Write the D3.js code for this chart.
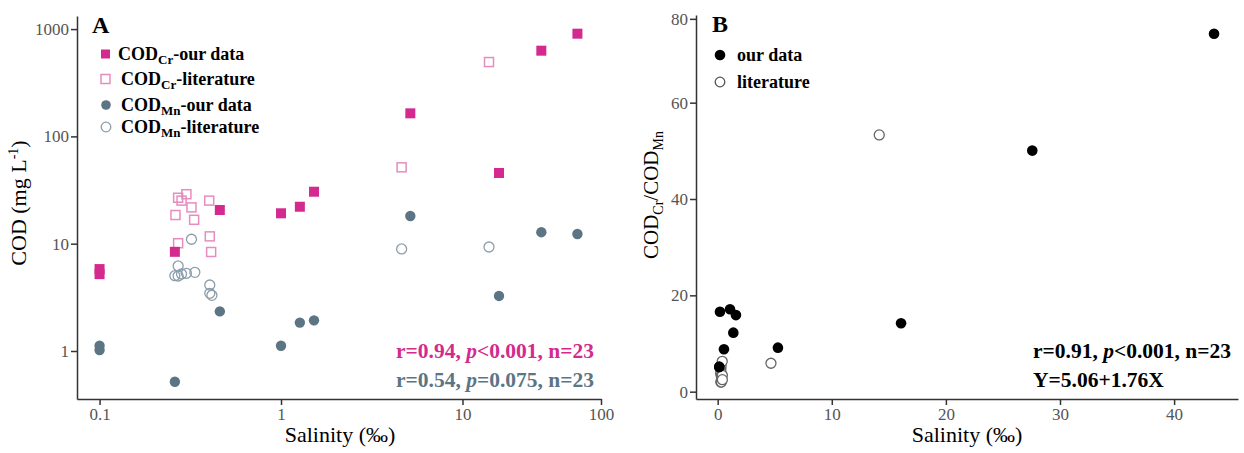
<!DOCTYPE html>
<html>
<head>
<meta charset="utf-8">
<script src="https://cdn.jsdelivr.net/npm/d3@7"></script>
<style>
body { margin: 0; background: #fff; }
svg { font-family: "Liberation Serif", "Times New Roman", serif; }
</style>
</head>
<body>
<svg id="chart" width="1244" height="453"></svg>
<script>
// ---- panel A : COD vs salinity (log / log) ----
var crOurSal = [0.1, 0.1, 0.26, 0.46, 1.0, 1.27, 1.52, 5.16, 15.9, 27.2, 43.0];
var crOurVal = [5.2, 5.8, 8.4, 20.6, 19.2, 22.1, 30.5, 164, 45.6, 629, 906];
var mnOurVal = [1.12, 1.02, 0.517, 2.34, 1.12, 1.84, 1.93, 18.1, 3.26, 12.8, 12.3];

var crLitSal = [0.271, 0.301, 0.283, 0.321, 0.262, 0.332, 0.402, 0.271, 0.405, 0.412, 4.62, 14.0];
var crLitVal = [26.8, 28.9, 25.2, 21.8, 18.5, 16.7, 25.2, 10.1, 11.7, 8.37, 51.5, 493];
var mnLitSal = [0.321, 0.271, 0.26, 0.271, 0.283, 0.301, 0.335, 0.405, 0.405, 0.416, 4.62, 14.0];
var mnLitVal = [11.0, 6.2, 5.03, 5.0, 5.22, 5.3, 5.41, 4.12, 3.45, 3.30, 8.93, 9.31];

// tick positions / labels (the last x tick sits at the axis end, labelled 100 as in the source)
var xTicksA = [0.1, 1, 10, 58];
var xLabelsA = ["0.1", "1", "10", "100"];
var yTicksA = [1, 10, 100, 1000];
var yLabelsA = ["1", "10", "100", "1000"];

// ---- panel B : CODCr/CODMn ratio vs salinity ----
var ourSalB = [0.14, 0.14, 0.2, 0.55, 1.08, 1.37, 1.6, 5.28, 16.07, 27.57, 43.5];
var ourRatioB = [5.1, 5.2, 16.6, 8.8, 17.1, 12.25, 15.9, 9.14, 14.2, 50.05, 74.3];
var litSalB = [0.26, 0.27, 0.27, 0.28, 0.30, 0.32, 0.33, 0.40, 0.41, 0.41, 4.67, 14.16];
var litRatioB = [3.7, 4.3, 2.0, 4.8, 5.45, 2.0, 3.1, 6.3, 3.4, 2.5, 5.9, 53.3];

var xTicksB = [0, 10, 20, 30, 40];
var yTicksB = [0, 20, 40, 60, 77.4];
var yLabelsB = ["0", "20", "40", "60", "80"];

var magenta = "#d42a8f", magentaLight = "#e68dc0";
var slate = "#5c7585", slateLight = "#8c9eab";
var axisColor = "#333", tickText = "#555";

var svg = d3.select("#chart");

function zip(a, b) {
	return a.map(function(v, i) { return [v, b[i]]; });
}

function styleAxis(g, fontSize) {
	g.attr("font-family", null).attr("font-size", null);
	g.select(".domain").attr("stroke", axisColor).attr("stroke-width", 1.5);
	g.selectAll(".tick line").attr("stroke", axisColor).attr("stroke-width", 1.5);
	g.selectAll(".tick text").attr("fill", tickText).style("font-size", fontSize + "px");
}

// ===== Panel A =====
var xA = d3.scaleLog().domain([0.0751, 58]).range([77, 601]);
var yA = d3.scaleLog().domain([0.357, 1324]).range([399, 16]);

svg.append("g")
	.attr("transform", "translate(0,399)")
	.call(d3.axisBottom(xA).tickValues(xTicksA).tickSize(6).tickPadding(3)
		.tickSizeOuter(0).tickFormat(function(d, i) { return xLabelsA[i]; }))
	.call(styleAxis, 17);

svg.append("g")
	.attr("transform", "translate(77,0)")
	.call(d3.axisLeft(yA).tickValues(yTicksA).tickSize(6).tickPadding(2)
		.tickSizeOuter(0).tickFormat(function(d, i) { return yLabelsA[i]; }))
	.call(styleAxis, 17);

// COD_Mn literature (open circles)
svg.append("g").selectAll("circle")
	.data(zip(mnLitSal, mnLitVal))
	.enter().append("circle")
	.attr("cx", function(d) { return xA(d[0]); })
	.attr("cy", function(d) { return yA(d[1]); })
	.attr("r", 5)
	.attr("fill", "none")
	.attr("stroke", slateLight)
	.attr("stroke-width", 1.3);

// COD_Cr literature (open squares)
svg.append("g").selectAll("rect")
	.data(zip(crLitSal, crLitVal))
	.enter().append("rect")
	.attr("x", function(d) { return xA(d[0]) - 4.5; })
	.attr("y", function(d) { return yA(d[1]) - 4.5; })
	.attr("width", 9).attr("height", 9)
	.attr("fill", "none")
	.attr("stroke", magentaLight)
	.attr("stroke-width", 1.5);

// COD_Mn our data
svg.append("g").selectAll("circle")
	.data(zip(crOurSal, mnOurVal))
	.enter().append("circle")
	.attr("cx", function(d) { return xA(d[0]); })
	.attr("cy", function(d) { return yA(d[1]); })
	.attr("r", 5.2)
	.attr("fill", slate);

// COD_Cr our data
svg.append("g").selectAll("rect")
	.data(zip(crOurSal, crOurVal))
	.enter().append("rect")
	.attr("x", function(d) { return xA(d[0]) - 5; })
	.attr("y", function(d) { return yA(d[1]) - 5; })
	.attr("width", 10).attr("height", 10)
	.attr("fill", magenta);

// panel letter + legend
svg.append("text").attr("x", 92).attr("y", 33)
	.style("font-size", "24px").style("font-weight", "bold").text("A");

var legendA = [
	{sub: "Cr", rest: "-our data", shape: "square", fill: magenta, stroke: "none"},
	{sub: "Cr", rest: "-literature", shape: "square", fill: "#fff", stroke: magentaLight},
	{sub: "Mn", rest: "-our data", shape: "circle", fill: slate, stroke: "none"},
	{sub: "Mn", rest: "-literature", shape: "circle", fill: "#fff", stroke: slateLight}
];
var legendRowsA = [54, 79, 105, 127];

legendA.forEach(function(d, i) {
	var cy = legendRowsA[i];
	if (d.shape === "square") {
		svg.append("rect").attr("x", 101).attr("y", cy - 4.5).attr("width", 9).attr("height", 9)
			.attr("fill", d.fill).attr("stroke", d.stroke).attr("stroke-width", 1.5);
	} else {
		svg.append("circle").attr("cx", 106).attr("cy", cy).attr("r", 4.8)
			.attr("fill", d.fill).attr("stroke", d.stroke).attr("stroke-width", 1.3);
	}
	var t = svg.append("text").attr("x", i === 0 ? 118 : 121).attr("y", cy + 6)
		.style("font-size", "18px").style("font-weight", "bold");
	t.append("tspan").text("COD");
	t.append("tspan").attr("dy", 4).style("font-size", "13px").text(d.sub);
	t.append("tspan").attr("dy", -4).text(d.rest);
});

// axis titles A
svg.append("text").attr("x", 340).attr("y", 442).attr("text-anchor", "middle")
	.style("font-size", "22px").text("Salinity (‰)");

var ylabA = svg.append("text")
	.attr("transform", "translate(26,203) rotate(-90)")
	.attr("text-anchor", "middle")
	.style("font-size", "22px");
ylabA.append("tspan").text("COD (mg L");
ylabA.append("tspan").attr("dy", -8).style("font-size", "14px").text("-1");
ylabA.append("tspan").attr("dy", 8).text(")");

// statistics A
var statA = [
	{r: "0.94", p: "<0.001", color: magenta, y: 358},
	{r: "0.54", p: "=0.075", color: slate, y: 387}
];
statA.forEach(function(s) {
	var t = svg.append("text").attr("x", 396).attr("y", s.y)
		.attr("fill", s.color).style("font-size", "21.5px").style("font-weight", "bold");
	t.append("tspan").text("r=" + s.r + ", ");
	t.append("tspan").style("font-style", "italic").text("p");
	t.append("tspan").text(s.p + ", n=23");
});

// ===== Panel B =====
var xB = d3.scaleLinear().domain([-1.9, 45.6]).range([696, 1238]);
var yB = d3.scaleLinear().domain([-1.52, 78.2]).range([399, 15]);

svg.append("g")
	.attr("transform", "translate(0,399)")
	.call(d3.axisBottom(xB).tickValues(xTicksB).tickSize(6).tickPadding(3).tickSizeOuter(0))
	.call(styleAxis, 17);

svg.append("g")
	.attr("transform", "translate(696,0)")
	.call(d3.axisLeft(yB).tickValues(yTicksB).tickSize(6).tickPadding(2)
		.tickSizeOuter(0).tickFormat(function(d, i) { return yLabelsB[i]; }))
	.call(styleAxis, 17);

svg.append("g").selectAll("circle")
	.data(zip(litSalB, litRatioB))
	.enter().append("circle")
	.attr("cx", function(d) { return xB(d[0]); })
	.attr("cy", function(d) { return yB(d[1]); })
	.attr("r", 5)
	.attr("fill", "#fff")
	.attr("stroke", "#666")
	.attr("stroke-width", 1.3);

svg.append("g").selectAll("circle")
	.data(zip(ourSalB, ourRatioB))
	.enter().append("circle")
	.attr("cx", function(d) { return xB(d[0]); })
	.attr("cy", function(d) { return yB(d[1]); })
	.attr("r", 5.3)
	.attr("fill", "#000");

svg.append("text").attr("x", 712).attr("y", 32)
	.style("font-size", "24px").style("font-weight", "bold").text("B");

svg.append("circle").attr("cx", 720).attr("cy", 55).attr("r", 5.3).attr("fill", "#000");
svg.append("circle").attr("cx", 720).attr("cy", 82).attr("r", 4.8)
	.attr("fill", "#fff").attr("stroke", "#555").attr("stroke-width", 1.3);
svg.append("text").attr("x", 737).attr("y", 61)
	.style("font-size", "18px").style("font-weight", "bold").text("our data");
svg.append("text").attr("x", 737).attr("y", 88)
	.style("font-size", "18px").style("font-weight", "bold").text("literature");

svg.append("text").attr("x", 967).attr("y", 442).attr("text-anchor", "middle")
	.style("font-size", "22px").text("Salinity (‰)");

var ylabB = svg.append("text")
	.attr("transform", "translate(658,195) rotate(-90)")
	.attr("text-anchor", "middle")
	.style("font-size", "21px");
ylabB.append("tspan").text("COD");
ylabB.append("tspan").attr("dy", 5).style("font-size", "14px").text("Cr");
ylabB.append("tspan").attr("dy", -5).text("/COD");
ylabB.append("tspan").attr("dy", 5).style("font-size", "14px").text("Mn");

var statB = svg.append("text").attr("x", 1033).attr("y", 358)
	.style("font-size", "21.5px").style("font-weight", "bold");
statB.append("tspan").text("r=0.91, ");
statB.append("tspan").style("font-style", "italic").text("p");
statB.append("tspan").text("<0.001, n=23");
svg.append("text").attr("x", 1033).attr("y", 387)
	.style("font-size", "21.5px").style("font-weight", "bold").text("Y=5.06+1.76X");
</script>
</body>
</html>
